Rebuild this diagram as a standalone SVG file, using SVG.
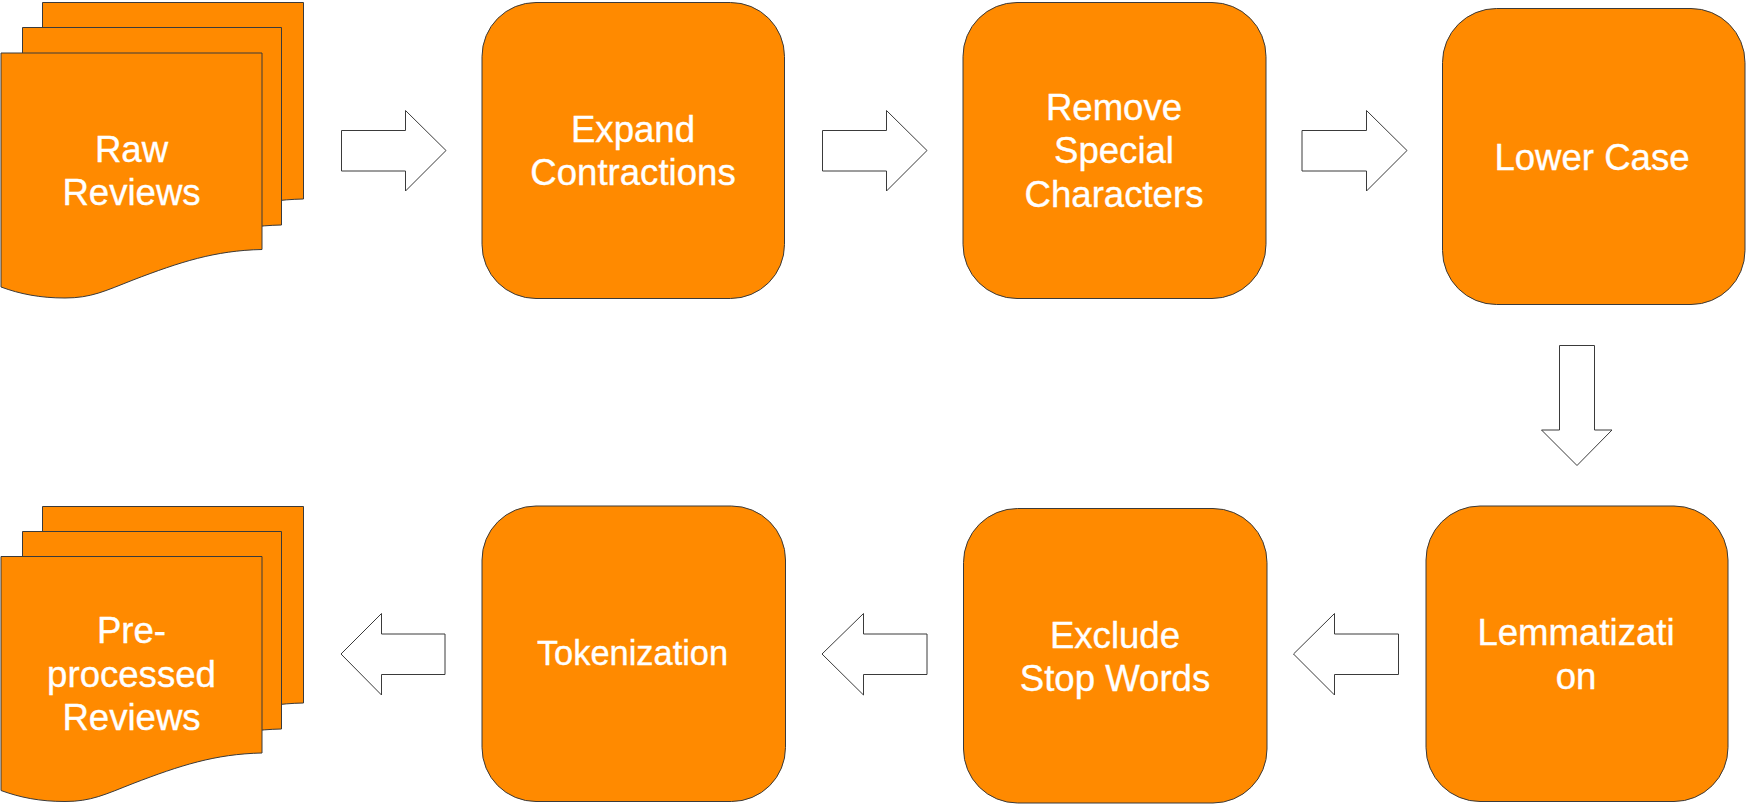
<svg xmlns="http://www.w3.org/2000/svg" width="1746" height="806" viewBox="0 0 1746 806">
<style>
.s{fill:#ff8a00;stroke:#3a3a3a;stroke-width:1}
.a{fill:#fff;stroke:#3a3a3a;stroke-width:1}
text{font-family:"Liberation Sans",Arial,sans-serif;font-size:36.600px;fill:#fff;stroke:#fff;stroke-width:.35;text-anchor:middle}
</style>
<rect width="1746" height="806" fill="#fff"/>
<defs>
<path id="sheet" d="M0,0H261V196.500C214,197.500 179,209 132,227C104,238 90,245 64,245C39,245 19,241 0,234Z"/>
<path id="sheet-mid" d="M0,0H259V197.500C212,198.500 177,210 130,228C102,239 88,246 62,246C37,246 17,242 0,235Z"/>
</defs>
<g id="raw-reviews">
<use href="#sheet" class="s" x="42.500" y="2.500"/>
<use href="#sheet-mid" class="s" x="22.500" y="27.500"/>
<use href="#sheet" class="s" x="1" y="53"/>
<text x="131.500" y="162">Raw</text>
<text x="131.500" y="205">Reviews</text>
</g>
<g id="expand-contractions">
<rect class="s" x="482" y="2.500" width="302.500" height="296" rx="54"/>
<text x="633" y="141.500">Expand</text>
<text x="633" y="185">Contractions</text>
</g>
<g id="remove-special-characters">
<rect class="s" x="963" y="2.500" width="303" height="296" rx="54"/>
<text x="1114" y="119.500">Remove</text>
<text x="1114" y="163">Special</text>
<text x="1114" y="206.500">Characters</text>
</g>
<g id="lower-case">
<rect class="s" x="1442.500" y="8.500" width="302.500" height="296" rx="54"/>
<text x="1592" y="169.500">Lower Case</text>
</g>
<g id="lemmatization">
<rect class="s" x="1426" y="506" width="302" height="295.500" rx="54"/>
<text x="1576" y="645">Lemmatizati</text>
<text x="1576" y="689">on</text>
</g>
<g id="exclude-stop-words">
<rect class="s" x="963.500" y="508.500" width="303.500" height="294.500" rx="54"/>
<text x="1115" y="647.500">Exclude</text>
<text x="1115" y="691">Stop Words</text>
</g>
<g id="tokenization">
<rect class="s" x="482" y="506" width="303.500" height="295.500" rx="54"/>
<text x="632.500" y="664.500" style="font-size:34.400px">Tokenization</text>
</g>
<g id="preprocessed-reviews">
<use href="#sheet" class="s" x="42.500" y="506.500"/>
<use href="#sheet-mid" class="s" x="22.500" y="531.500"/>
<use href="#sheet" class="s" x="1" y="556.500"/>
<text x="131.500" y="643">Pre-</text>
<text x="131.500" y="686.500">processed</text>
<text x="131.500" y="730">Reviews</text>
</g>
<g id="connectors">
<path class="a" d="M341.500,130.500H405.500V110.500L446,150.500L405.500,191V171H341.500Z"/>
<path class="a" d="M822.500,130.500H886.500V110.500L927,150.500L886.500,191V171H822.500Z"/>
<path class="a" d="M1302,130.500H1366.500V110.500L1407,150.500L1366.500,191V171H1302Z"/>
<path class="a" d="M1559.500,345.500H1594.500V430H1612L1577,465.500L1541.500,430H1559.500Z"/>
<path class="a" d="M1398.500,634H1334.500V613.500L1293.500,654L1334.500,695V674.500H1398.500Z"/>
<path class="a" d="M927,634H863.500V613.500L822,654L863.500,695V674.500H927Z"/>
<path class="a" d="M445,634H381.500V613.500L341,654L381.500,695V674.500H445Z"/>
</g>
</svg>
